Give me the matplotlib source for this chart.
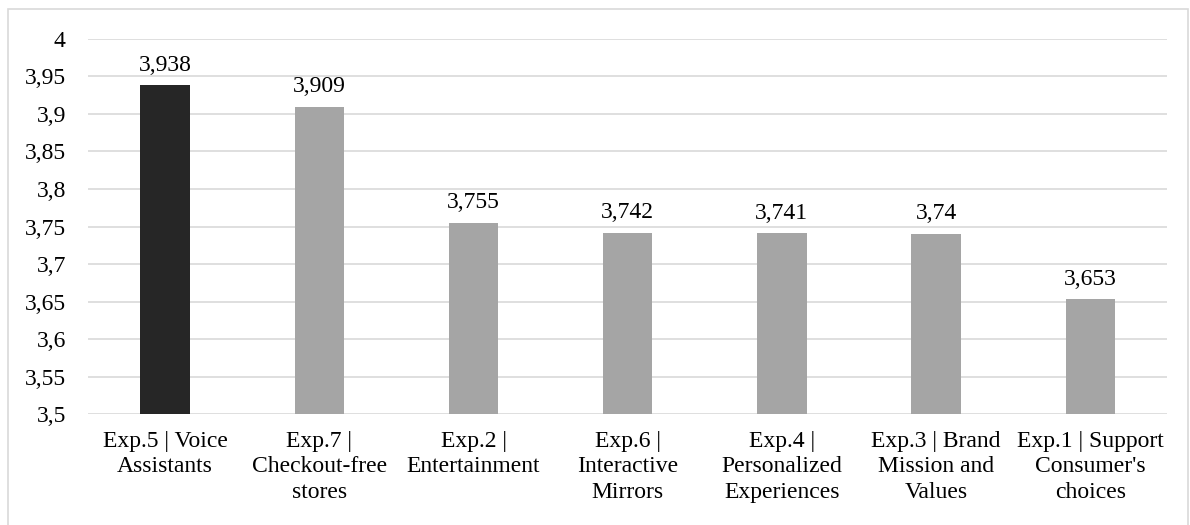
import matplotlib
matplotlib.use("Agg")
import matplotlib.pyplot as plt
from matplotlib.patches import Rectangle

plt.rcParams['font.family'] = ['Liberation Serif', 'DejaVu Serif']

categorias = [
    "Exp.5 | Voice\nAssistants",
    "Exp.7 |\nCheckout-free\nstores",
    "Exp.2 |\nEntertainment",
    "Exp.6 |\nInteractive\nMirrors",
    "Exp.4 |\nPersonalized\nExperiences",
    "Exp.3 | Brand\nMission and\nValues",
    "Exp.1 | Support\nConsumer's\nchoices",
]
valores = [3.938, 3.909, 3.755, 3.742, 3.741, 3.74, 3.653]
cores = ["#262626"] + ["#a5a5a5"] * 6
yticks = [3.5, 3.55, 3.6, 3.65, 3.7, 3.75, 3.8, 3.85, 3.9, 3.95, 4]


def virgula(v):
    # formato decimal com vírgula
    return f"{v:g}".replace(".", ",")


fig = plt.figure(figsize=(11.9, 5.25), dpi=100)
ax = fig.add_axes([0.074, 0.211, 0.907, 0.715])

x = range(len(categorias))
ax.bar(x, valores, width=0.32, color=cores, zorder=3)

for i, v in zip(x, valores):
    ax.text(i, v + 0.013, virgula(v), ha="center", va="bottom", fontsize=17, color="#000000")

ax.set_ylim(3.5, 4)
ax.set_xlim(-0.5, len(categorias) - 0.5)
ax.set_yticks(yticks)
ax.set_yticklabels([virgula(t) for t in yticks], fontsize=17)
ax.set_xticks(list(x))
ax.set_xticklabels(categorias, fontsize=17, linespacing=1.28)
ax.tick_params(axis="both", length=0)
ax.tick_params(axis="y", pad=16)
ax.tick_params(axis="x", pad=12)
ax.grid(axis="y", color="#d9d9d9", linewidth=1.2, zorder=0)
for s in ax.spines.values():
    s.set_visible(False)

# moldura do gráfico
fig.patches.append(Rectangle((8 / 1190, -0.02), 1180 / 1190, 1.02 - 9 / 525,
                             transform=fig.transFigure, fill=False,
                             edgecolor="#d9d9d9", linewidth=1.2))

fig.savefig("out.png", dpi=100)
